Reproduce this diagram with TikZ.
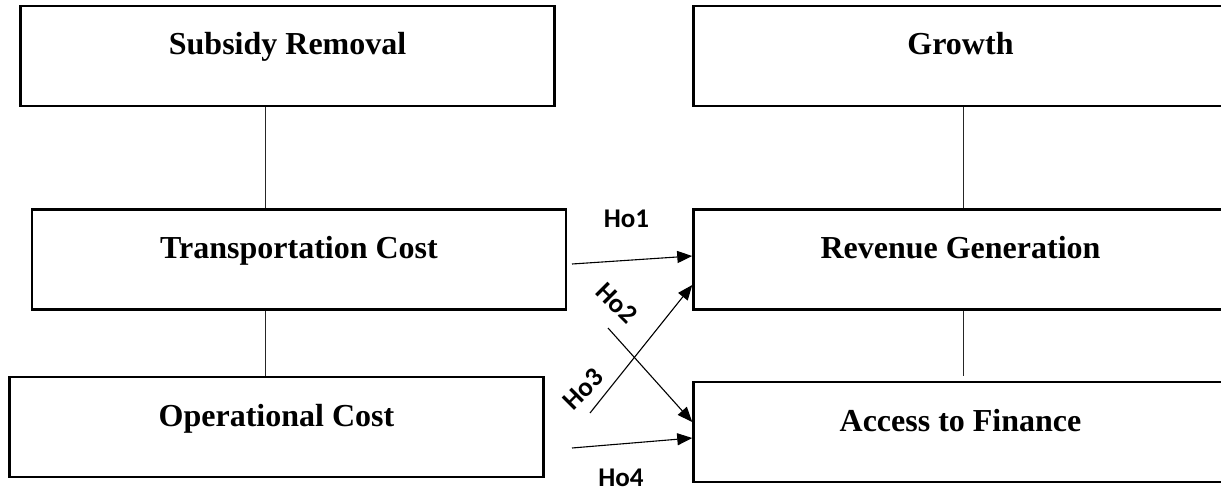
\documentclass[tikz,border=0pt]{standalone}
\usepackage{fontspec}
\setmainfont{Liberation Serif}
\newfontfamily\labfont{Carlito}
\usetikzlibrary{arrows.meta}
\begin{document}
\begin{tikzpicture}[x=1pt,y=-1pt,
  boxnode/.style={draw, line width=2.5pt, inner sep=0pt, minimum width=534pt, minimum height=100pt,
     text height=49pt, text depth=51pt, font=\fontsize{32}{36}\selectfont\bfseries},
  link/.style={line width=1pt, draw=black!85},
  hyp/.style={line width=1.1pt, -{Triangle[length=15pt, width=12pt]}},
  hlabel/.style={inner sep=0pt, font=\labfont\fontsize{27}{30}\selectfont\bfseries}]
\useasboundingbox (0,0) rectangle (1221,489);
\clip (0,0) rectangle (1221,489);
% left column
\node[boxnode] (sub) at (287.6,56) {Subsidy Removal};
\node[boxnode] (tra) at (299,259.5) {Transportation Cost};
\node[boxnode] (ope) at (276.5,427) {Operational Cost};
% right column
\node[boxnode] (gro) at (960.5,56) {Growth};
\node[boxnode] (rev) at (960.5,259.5) {Revenue Generation};
\node[boxnode] (acc) at (960.5,432) {Access to Finance};
% vertical links
\draw[link] (sub.south -| 265,0) -- (tra.north -| 265,0);
\draw[link] (tra.south -| 265,0) -- (ope.north -| 265,0);
\draw[link] (gro.south -| 963,0) -- (rev.north -| 963,0);
\coordinate (accstop) at (963,376);
\draw[link] (rev.south -| 963,0) -- (accstop);
% hypothesis arrows
\coordinate (s1) at (572,264);
\coordinate (s2) at (608,328);
\coordinate (s3) at (590,413);
\coordinate (s4) at (572,448);
\draw[hyp] (s1) -- (rev.west |- 0,256);
\draw[hyp] (s2) -- (acc.west |- 0,422);
\draw[hyp] (s3) -- (rev.west |- 0,285);
\draw[hyp] (s4) -- (acc.west |- 0,438);
% labels
\node[hlabel] (h1) at (626.5,219) {Ho1};
\node[hlabel, rotate=-45] (h2) at (617,303) {Ho2};
\node[hlabel, rotate=45] (h3) at (583,389) {Ho3};
\node[hlabel] (h4) at (621,478) {Ho4};
\end{tikzpicture}
\end{document}
